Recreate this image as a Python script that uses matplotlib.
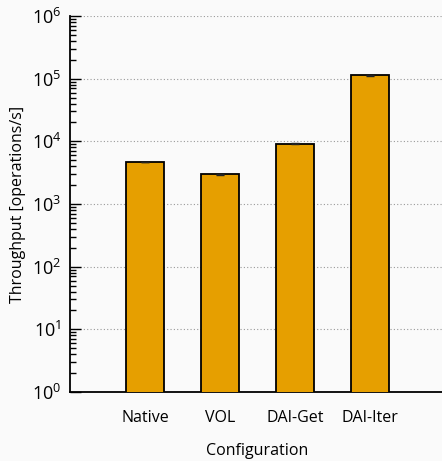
import matplotlib.pyplot as plt
from matplotlib.ticker import LogLocator, NullFormatter

plt.rcParams['font.family'] = ['Open Sans', 'DejaVu Sans']
plt.rcParams['font.size'] = 11.5

configs = ["Native", "VOL", "DAI-Get", "DAI-Iter"]
throughput = [4680, 2960, 9200, 114000]
errors = [60, 40, 250, 2000]

fig = plt.figure(figsize=(4.42, 4.61), dpi=100, facecolor='#fafafa')
ax = fig.add_axes([70 / 442, 69 / 461, 375 / 442, 376 / 461])
ax.set_facecolor('#fafafa')

pos = list(range(1, len(configs) + 1))
ax.bar(pos, throughput, width=0.5, color='#E69F00', edgecolor='black',
       linewidth=1.3, zorder=3)
ax.errorbar(pos, throughput, yerr=errors, fmt='none', ecolor='#222222',
            elinewidth=1, capsize=3, capthick=1, zorder=4)

ax.set_yscale('log')
ax.set_ylim(1, 1e6)
ax.set_xlim(0, 5)
ax.set_xticks(pos)
ax.set_xticklabels(configs)
ax.yaxis.set_major_locator(LogLocator(base=10, numticks=10))
ax.yaxis.set_minor_locator(LogLocator(base=10, subs=range(2, 10), numticks=20))
ax.yaxis.set_minor_formatter(NullFormatter())
ax.tick_params(axis='y', which='major', direction='in', length=8, width=1,
               labelsize=13, pad=6)
ax.tick_params(axis='y', which='minor', direction='in', length=4, width=1)
ax.tick_params(axis='x', length=0, pad=13)

ax.grid(axis='y', which='major', linestyle=(0, (1, 2)), color='#999999',
        linewidth=0.8, zorder=0)
ax.spines['top'].set_visible(False)
ax.spines['right'].set_visible(False)
ax.spines['left'].set_linewidth(1.3)
ax.spines['bottom'].set_linewidth(1.3)

ax.set_xlabel('Configuration', labelpad=12)
ax.set_ylabel('Throughput [operations/s]', labelpad=4)

fig.savefig('out.png', dpi=100, facecolor='#fafafa')
